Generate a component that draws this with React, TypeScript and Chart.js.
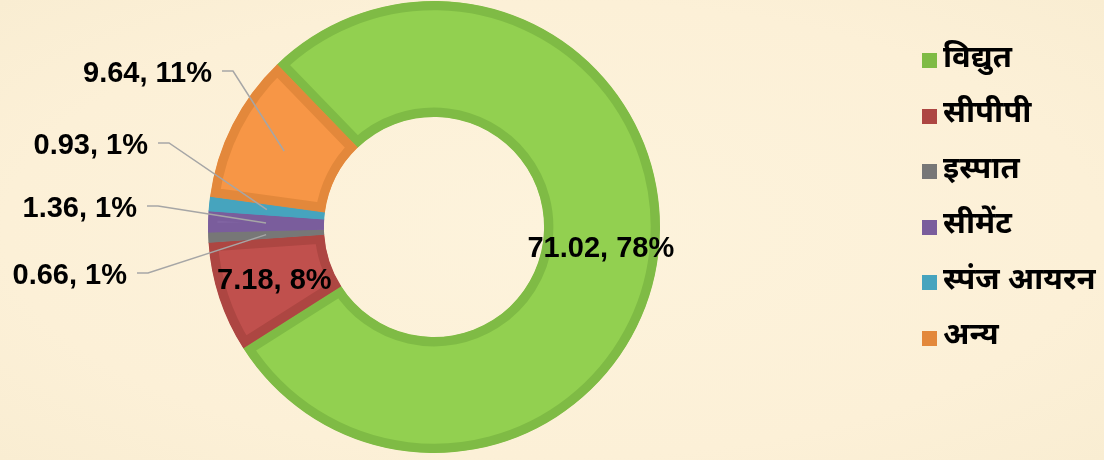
import React, { useEffect, useRef } from "react";
import { Chart, registerables } from "chart.js";

Chart.register(...registerables);

const categories: string[] = ["विद्युत", "सीपीपी", "इस्पात", "सीमेंट", "स्पंज आयरन", "अन्य"];
const values: number[] = [71.02, 7.18, 0.66, 1.36, 0.93, 9.64];

const fillColors = ["#92D050", "#C0504D", "#7F7F7F", "#8064A2", "#4BACC6", "#F79646"];
const borderColors = ["#7FBB45", "#AD4642", "#777777", "#7A5D9C", "#46A4BE", "#E3883B"];

// label placement: null = centered on slice; otherwise offset of text right edge / vertical centre from the chart centre
const labelPlacement: (null | [number, number])[] = [null, null, [-307, 48], [-297, -19], [-286, -82], [-222, -154]];

const LABEL_FONT = 'bold 29px "Liberation Sans", Arial, sans-serif';
const LEGEND_FONT = 'bold 31px "Noto Sans Devanagari", "Lohit Devanagari", "Noto Sans", "Liberation Sans", sans-serif';

const labelPlugin = {
  id: "customLabels",
  afterDatasetsDraw(chart: any) {
    const ctx: CanvasRenderingContext2D = chart.ctx;
    const meta = chart.getDatasetMeta(0);
    const total = values.reduce((a, b) => a + b, 0);
    ctx.save();
    ctx.font = LABEL_FONT;
    ctx.fillStyle = "#000";
    meta.data.forEach((arc: any, i: number) => {
      const pct = Math.round((values[i] / total) * 100);
      const text = `${values[i]}, ${pct}%`;
      const pos = arc.tooltipPosition(false);
      const place = labelPlacement[i];
      if (!place) {
        ctx.textAlign = "center";
        ctx.textBaseline = "middle";
        ctx.fillText(text, pos.x, pos.y + 2);
      } else {
        const rx = arc.x + place[0];
        const cy = arc.y + place[1];
        ctx.textAlign = "right";
        ctx.textBaseline = "middle";
        ctx.fillText(text, rx, cy + 1);
        ctx.beginPath();
        ctx.strokeStyle = "#A6A6A6";
        ctx.lineWidth = 1.5;
        ctx.moveTo(rx + 10, cy - 2);
        ctx.lineTo(rx + 21, cy - 2);
        ctx.lineTo(pos.x, pos.y);
        ctx.stroke();
      }
    });
    // legend
    const lx = 922;
    const ly0 = 53;
    const step = 55.5;
    categories.forEach((c, i) => {
      const y = ly0 + i * step;
      ctx.fillStyle = borderColors[i];
      ctx.fillRect(lx, Math.round(y), 15, 15);
      ctx.fillStyle = "#000";
      ctx.font = LEGEND_FONT;
      ctx.textAlign = "left";
      ctx.textBaseline = "middle";
      ctx.fillText(c, lx + 21, y + 8);
    });
    ctx.restore();
  },
};

export default function App() {
  const ref = useRef<HTMLCanvasElement>(null);
  useEffect(() => {
    if (!ref.current) return;
    const chart = new Chart(ref.current, {
      type: "doughnut",
      data: {
        labels: categories,
        datasets: [
          {
            data: values,
            backgroundColor: fillColors,
            borderColor: borderColors,
            borderWidth: 9,
            borderAlign: "inner",
          } as any,
        ],
      },
      options: {
        responsive: false,
        animation: false,
        rotation: -44,
        cutout: "48.7%",
        layout: { padding: { left: 208, right: 444, top: 1, bottom: 7 } },
        plugins: {
          legend: { display: false },
          tooltip: { enabled: false },
        },
        events: [],
      },
      plugins: [labelPlugin],
    });
    return () => chart.destroy();
  }, []);
  return (
    <div
      style={{
        position: "absolute",
        left: 0,
        top: 0,
        width: 1104,
        height: 460,
        background: "radial-gradient(ellipse at 50% 50%, #FDF3DC 0%, #FCF0D7 70%, #F9EDD2 100%)",
      }}
    >
      <canvas ref={ref} width={1104} height={460} />
    </div>
  );
}
